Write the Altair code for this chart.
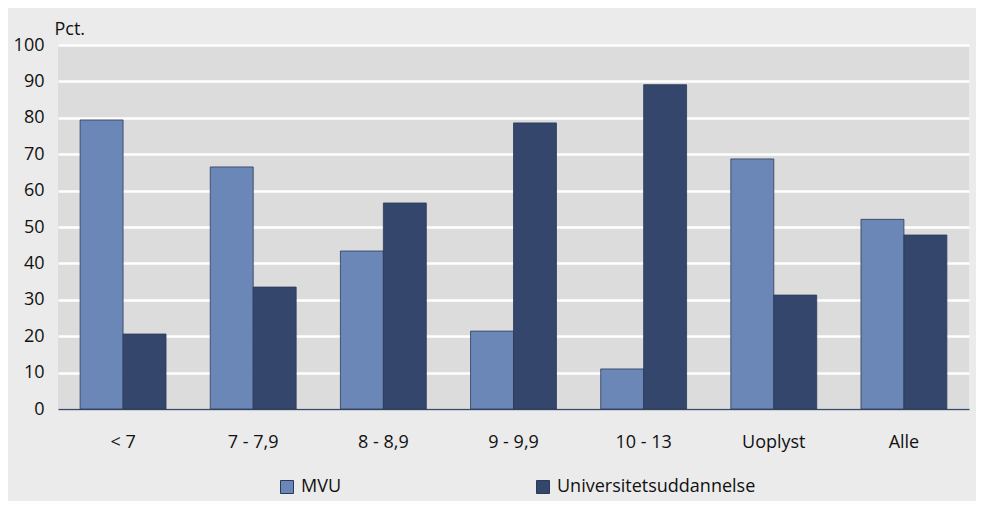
import altair as alt
import pandas as pd

categories = ["< 7", "7 - 7,9", "8 - 8,9", "9 - 9,9", "10 - 13", "Uoplyst", "Alle"]
mvu = [79.4, 66.5, 43.4, 21.4, 11.0, 68.7, 52.1]
uni = [20.6, 33.5, 56.6, 78.6, 89.1, 31.3, 47.8]
series = ["MVU", "Universitetsuddannelse"]
colors = ["#6b87b8", "#34466b"]

rows = []
for c, a, b in zip(categories, mvu, uni):
    rows.append({"cat": c, "serie": series[0], "val": a})
    rows.append({"cat": c, "serie": series[1], "val": b})
df = pd.DataFrame(rows)

FONT = "Open Sans, sans-serif"

chart = alt.Chart(df).mark_bar(stroke="#2b3a58", strokeWidth=0.8).encode(
    x=alt.X("cat:N", sort=categories,
            scale=alt.Scale(paddingInner=0.34, paddingOuter=0.17),
            axis=alt.Axis(title=None, labelAngle=0, ticks=False, labelPadding=24,
                          labelFontSize=18, labelFont=FONT, labelColor="#111",
                          domain=True, domainColor="#3a4a66", domainWidth=1.5, grid=False)),
    xOffset=alt.XOffset("serie:N", sort=series, scale=alt.Scale(paddingInner=0, paddingOuter=0)),
    y=alt.Y("val:Q", scale=alt.Scale(domain=[0, 100], nice=False),
            axis=alt.Axis(title="Pct.", titleAngle=0, titleAlign="left", titleBaseline="bottom",
                          titleX=-4, titleY=-7, titleFont=FONT, titleFontSize=18,
                          titleFontWeight="normal", titleColor="#111",
                          values=list(range(0, 101, 10)), ticks=False, domain=False,
                          labelPadding=14, labelFontSize=18, labelFont=FONT, labelColor="#111",
                          gridColor="#ffffff", gridWidth=2.5, gridOpacity=1)),
    color=alt.Color("serie:N", sort=series,
                    scale=alt.Scale(domain=series, range=colors),
                    legend=alt.Legend(title=None, orient="none", legendX=220, legendY=433,
                                      direction="horizontal", symbolType="square",
                                      symbolSize=169, symbolStrokeColor="#2b3a58",
                                      symbolStrokeWidth=1, labelFontSize=18, labelFont=FONT,
                                      labelColor="#111", labelOffset=5, columnPadding=192,
                                      labelLimit=0)),
).properties(
    width=911, height=364,
    background="#ebebeb",
    padding={"left": 50, "top": 37, "right": 7, "bottom": 92},
    autosize=alt.AutoSizeParams(type="none"),
).configure_view(fill="#dcdcdc", stroke=None)

chart.save("out.html", embed_options={"renderer": "svg", "actions": False})
